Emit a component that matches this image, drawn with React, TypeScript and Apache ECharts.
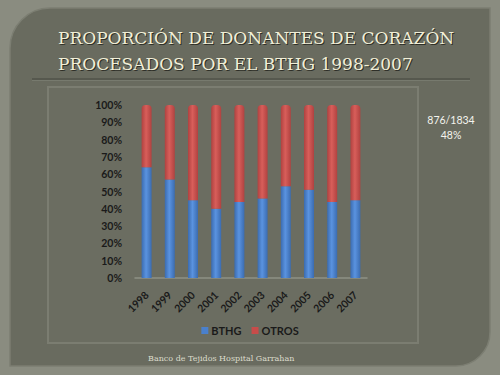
import React, { useEffect, useRef } from "react";
import * as echarts from "echarts";

const years = ["1998", "1999", "2000", "2001", "2002", "2003", "2004", "2005", "2006", "2007"];
const bthg = [64, 57, 45, 40, 44, 46, 53, 51, 44, 45];
const otros = [36, 43, 55, 60, 56, 54, 47, 49, 56, 55];
const yTicks = { min: 0, max: 100, interval: 10 };
const titleLines = ["PROPORCIÓN DE DONANTES DE CORAZÓN", "PROCESADOS POR EL BTHG 1998-2007"];
const noteLines = ["876/1834", "48%"];
const footer = "Banco de Tejidos Hospital Garrahan";

const labelFont = "Lato, 'Noto Sans', sans-serif";

function cyl(dark: string, light: string) {
  return new echarts.graphic.LinearGradient(0, 0, 1, 0, [
    { offset: 0, color: dark },
    { offset: 0.45, color: light },
    { offset: 1, color: dark },
  ]);
}

export default function App() {
  const ref = useRef<HTMLDivElement>(null);
  useEffect(() => {
    if (!ref.current) return;
    const chart = echarts.init(ref.current, undefined, { renderer: "svg" });
    const titleEls: any[] = [];
    const titleFont = "17px 'DejaVu Serif', serif";
    titleLines.forEach((t, i) => {
      titleEls.push({
        type: "text",
        left: 59,
        top: 30.5 + i * 26,
        style: { text: t, fill: "#2e2f28", font: titleFont },
        z: 10,
      });
      titleEls.push({
        type: "text",
        left: 58,
        top: 29.5 + i * 26,
        style: { text: t, fill: "#f1efd8", font: titleFont },
        z: 11,
      });
    });
    chart.setOption({
      animation: false,
      backgroundColor: "#8a8c80",
      graphic: [
        {
          type: "rect",
          shape: { x: 10, y: 8, width: 480, height: 358, r: [40, 0, 34, 0] },
          style: { fill: "#696b5f", stroke: "#7c7e72", lineWidth: 1.5 },
          z: -10,
        },
        {
          type: "line",
          shape: { x1: 32, y1: 79, x2: 470, y2: 79 },
          style: { stroke: "#45473e", lineWidth: 1.2 },
          z: -9,
        },
        {
          type: "line",
          shape: { x1: 32, y1: 80.5, x2: 470, y2: 80.5 },
          style: { stroke: "#777a6e", lineWidth: 1 },
          z: -9,
        },
        {
          type: "rect",
          shape: { x: 48, y: 87, width: 370, height: 256 },
          style: { fill: "#6b6d61", stroke: "#7b7d71", lineWidth: 2 },
          z: -9,
        },
        ...titleEls,
        {
          type: "text",
          x: 451,
          y: 120,
          style: {
            text: noteLines[0],
            fill: "#f4f4ee",
            font: "10.5px " + labelFont,
            align: "center",
            verticalAlign: "middle",
          },
          z: 10,
        },
        {
          type: "text",
          x: 451,
          y: 134.5,
          style: {
            text: noteLines[1],
            fill: "#f4f4ee",
            font: "10.5px " + labelFont,
            align: "center",
            verticalAlign: "middle",
          },
          z: 10,
        },
        {
          type: "text",
          x: 148,
          y: 358,
          style: {
            text: footer,
            fill: "#dcdccc",
            font: "8px 'DejaVu Serif', serif",
            verticalAlign: "middle",
          },
          z: 10,
        },
      ],
      grid: { left: 135, right: 133, top: 105, bottom: 97 },
      legend: {
        bottom: 34,
        left: "center",
        itemWidth: 7,
        itemHeight: 7,
        itemGap: 10,
        icon: "rect",
        textStyle: { color: "#1a1a1a", fontFamily: labelFont, fontWeight: "bold", fontSize: 11, padding: [0, 0, 0, -2] },
        data: [
          { name: "BTHG", itemStyle: { color: "#4a80cc" } },
          { name: "OTROS", itemStyle: { color: "#c84c4a" } },
        ],
      },
      xAxis: {
        type: "category",
        data: years,
        z: 5,
        axisTick: { show: false },
        axisLine: { lineStyle: { color: "#8f9185", width: 1.5 } },
        axisLabel: {
          rotate: 45,
          margin: 15,
          color: "#1a1a1a",
          fontFamily: labelFont,
          fontWeight: "bold",
          fontSize: 10.5,
        },
      },
      yAxis: {
        type: "value",
        z: 5,
        min: yTicks.min,
        max: yTicks.max,
        interval: yTicks.interval,
        splitLine: { show: false },
        axisLine: { show: false },
        axisTick: { show: false },
        axisLabel: {
          formatter: "{value}%",
          margin: 13,
          color: "#1a1a1a",
          fontFamily: labelFont,
          fontWeight: "bold",
          fontSize: 10.5,
        },
      },
      series: [
        {
          name: "BTHG",
          type: "bar",
          stack: "t",
          barWidth: 10,
          z: 6,
          data: bthg,
          itemStyle: { color: cyl("#3b6cb0", "#5a93e0") },
        },
        {
          name: "OTROS",
          type: "bar",
          stack: "t",
          barWidth: 10,
          z: 6,
          data: otros,
          itemStyle: { color: cyl("#b04240", "#d85e5a"), borderRadius: [4, 4, 0, 0] },
        },
      ],
    });
    return () => chart.dispose();
  }, []);
  return (
    <div
      ref={ref}
      style={{ position: "fixed", left: 0, top: 0, width: 500, height: 375 }}
    />
  );
}
